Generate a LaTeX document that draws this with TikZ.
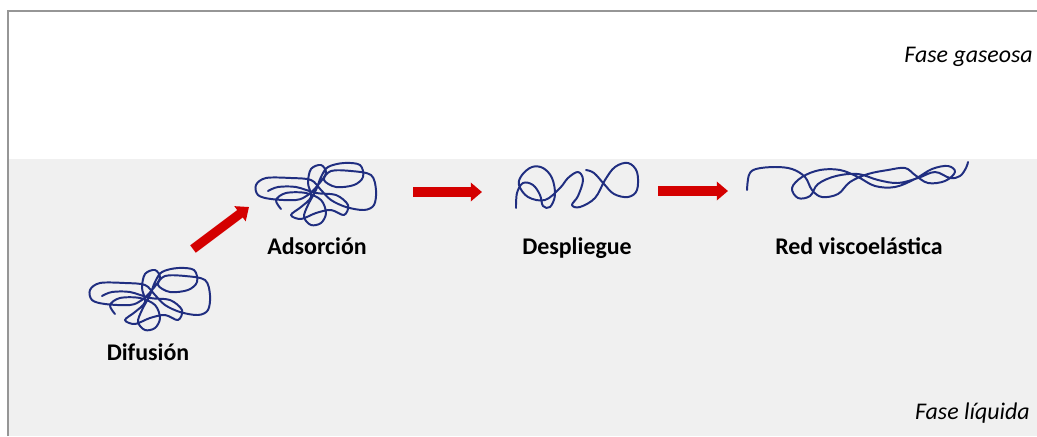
\documentclass[tikz,border=0pt]{standalone}
\usepackage{fontspec}
\setmainfont{Carlito}
\usetikzlibrary{arrows.meta}
\definecolor{chainblue}{RGB}{32,46,128}
\definecolor{arrowred}{RGB}{212,0,0}
\definecolor{liquidgray}{RGB}{240,240,240}
\definecolor{framegray}{RGB}{150,150,150}

% a coiled protein chain, centred on #1
\newcommand{\coil}[1]{%
  \draw[chain,shift={#1}] plot[smooth,tension=.55] coordinates {
    (-35,14) (-40,5) (-30,-2) (-10,-2) (5,5) (10,18) (5,28) (-5,30) (-12,22)
    (-8,10) (0,-5) (5,-18) (12,-28) (28,-32) (44,-30) (47,-18) (38,-10)
    (20,-8) (8,-15) (15,-24) (35,-24) (55,-20) (60,-5) (58,10) (48,15)
    (30,12) (15,5) (5,-5) (-5,-15) (-25,-17) (-50,-17) (-60,-10) (-58,0)
    (-45,4) (-20,5) (-8,0) (2,-10) (10,-22) (5,-30) (-5,-26) (-8,-12)
    (-5,2) (-15,12) (-25,20) (-15,24) (0,18) (15,15) (28,20) (32,10)
    (20,0) (0,-2) (-20,-8) (-38,-8) (-48,-4)};}

\begin{document}
\begin{tikzpicture}[x=0.025cm,y=-0.025cm,
    chain/.style={chainblue,line width=1.4pt,line cap=round,line join=round},
    arw/.style={arrowred,line width=6.6pt,-{Triangle[width=13pt,length=8pt]}},
    lbl/.style={anchor=base,font=\fontsize{17}{20}\selectfont\bfseries},
    phase/.style={anchor=base east,inner xsep=0pt,font=\fontsize{17}{20}\selectfont\itshape}]
  \useasboundingbox (0,0) rectangle (1037,436);
  % liquid phase and frame
  \fill[liquidgray] (8,159) rectangle (1037,436);
  \draw[framegray,line width=1.2pt] (8,436) -- (8,11) -- (1037,11);
  \node[phase] (gas) at (1033,62) {Fase gaseosa};
  \node[phase] (liq) at (1030,419) {Fase líquida};

  % stages
  \coil{(150,300)}
  \node[lbl] (dif) at (148,360) {Difusión};
  \coil{(316,195)}
  \node[lbl] (ads) at (317,254) {Adsorción};
  \draw[chain] plot[smooth,tension=.6] coordinates {
    (516,208) (517,193) (523,183) (533,185) (540,195) (543,206) (550,207)
    (555,195) (552,178) (543,168) (532,167) (522,175) (519,185) (528,197)
    (545,200) (560,188) (568,178) (578,172) (583,180) (578,196) (572,205)
    (580,207) (595,198) (605,180) (615,167) (628,163) (637,172) (637,190)
    (628,197) (614,194) (604,184) (594,173) (586,170)};
  \node[lbl] (des) at (577,254) {Despliegue};
  \draw[chain] plot[smooth,tension=.6] coordinates {
    (747,190) (749,175) (756,169) (775,167) (792,169) (805,177) (812,190)
    (822,197) (838,194) (850,182) (868,174) (888,170) (905,168) (915,175)
    (928,183) (945,181) (955,172) (948,166) (932,169) (915,179) (895,187)
    (875,186) (858,177) (840,170) (820,170) (802,177) (792,188) (798,198)
    (810,196) (818,184) (836,176) (858,174) (878,180) (898,183) (918,178)
    (935,172) (950,178) (960,176) (966,168) (968,162)};
  \node[lbl] (red) at (859,254) {Red viscoelástica};

  % steps
  \coordinate (a1) at (193,249);
  \coordinate (b1) at (249,207);
  \coordinate (a2) at (413,192);
  \coordinate (b2) at (482,192);
  \coordinate (a3) at (658,191);
  \coordinate (b3) at (728,191);
  \draw[arw] (a1) -- (b1);
  \draw[arw] (a2) -- (b2);
  \draw[arw] (a3) -- (b3);
\end{tikzpicture}
\end{document}
